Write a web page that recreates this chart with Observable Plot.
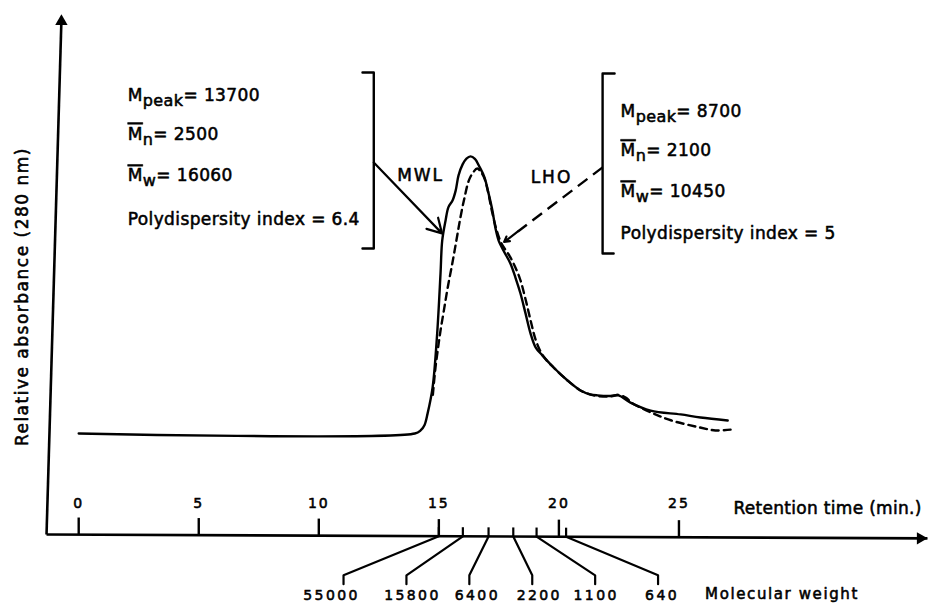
<!DOCTYPE html>
<html>
<head>
<meta charset="utf-8">
<script src="https://cdn.jsdelivr.net/npm/d3@7"></script>
<script src="https://cdn.jsdelivr.net/npm/@observablehq/plot@0.6"></script>
<style>
  html, body { margin: 0; padding: 0; background: #fff; }
  #chart svg { display: block; }
</style>
</head>
<body>
<div id="chart"></div>
<script>
// ---------------- DATA ----------------
// MWL chromatogram (solid): retention time (min) and relative absorbance (peak = 100)
const solidTime = [0, 14.0, 14.24, 14.4, 14.53, 14.74, 14.93, 15.07, 15.14, 15.28, 15.4, 15.57, 15.7, 15.82, 15.99, 16.15, 16.32, 16.5, 16.7, 16.9, 17.07, 17.23, 17.36, 17.49, 17.69, 17.98, 18.19, 18.4, 18.61, 18.82, 19.03, 19.31, 19.78, 20.36, 20.9, 21.3, 21.61, 22.15, 22.48, 22.98, 23.82, 25.07, 25.9, 27.03];
const solidAbs  = [0, 0, 1.1, 3, 7.2, 16.7, 36.2, 58, 69.9, 77.2, 82, 84.4, 88, 93.5, 97.5, 99.6, 100.4, 99.5, 96.5, 92.8, 87, 80.8, 74.3, 69.9, 66.3, 61.6, 56.5, 50.7, 43.5, 36.2, 31.2, 28.3, 23.9, 19.2, 15.6, 14.2, 13.8, 13.6, 13.8, 11.2, 8.3, 6.9, 5.8, 4.7];
// LHO chromatogram (dashed)
const dashedTime = [14.75, 14.86, 14.97, 15.07, 15.21, 15.37, 15.56, 15.73, 15.9, 16.07, 16.25, 16.43, 16.6, 16.76, 16.9, 17.05, 17.2, 17.38, 17.6, 17.98, 18.36, 18.6, 18.82, 19.05, 19.35, 19.78, 20.36, 20.9, 21.44, 22.15, 22.48, 22.78, 23.07, 23.94, 24.69, 25.86, 26.52, 27.15];
const dashedAbs  = [14, 23.9, 31.2, 37.3, 44.6, 52.9, 61.6, 69.9, 78.3, 85.5, 91.7, 94.6, 96, 94.6, 92.4, 87.5, 81, 74.5, 69, 63.8, 56.5, 49, 41, 33.5, 28, 23.9, 19.2, 15.6, 13.8, 13.4, 14.0, 13.0, 10.9, 7.2, 4.7, 2.2, 1.1, 1.4];
// Retention-time axis ticks
const retentionTicks = [0, 5, 10, 15, 20, 25];
// Molecular-weight calibration marks on the time axis
const mwLabels = ["55000", "15800", "6400", "2200", "1100", "640"];
const mwTime   = [15.0, 16.0, 17.07, 18.1, 19.07, 20.3];
// Annotation texts ({sub:..} subscript, {bar:..} overlined)
const mwlLines = ["M{sub:peak}= 13700", "{bar:M}{sub:n}= 2500", "{bar:M}{sub:w}= 16060", "Polydispersity index = 6.4"];
const lhoLines = ["M{sub:peak}= 8700", "{bar:M}{sub:n}= 2100", "{bar:M}{sub:w}= 10450", "Polydispersity index = 5"];
const xTitle = "Retention time (min.)";
const yTitle = "Relative absorbance (280 nm)";
const mwTitle = "Molecular weight";

// ---------------- LAYOUT ----------------
const PX = 24.01;                                            // px per minute
const AX = {t0: -1.34, a0: -36.6, t1: 35.35, a1: -38.0};   // time axis line
const YT = {t: -0.72, a: 151.8};                             // y axis arrow tip
const axisA = t => AX.a0 + (t - AX.t0) * (AX.a1 - AX.a0) / (AX.t1 - AX.t0);
const bendT = i => 11.03 + i * 2.62;
const labelShift = [-12, 6, 8, 7, 1, 4];                     // px shift of MW labels from leader ends
const font = '"DejaVu Sans", "Liberation Sans", sans-serif';

const solid = solidTime.map((t, i) => ({t, a: solidAbs[i]}));
const dashed = dashedTime.map((t, i) => ({t, a: dashedAbs[i]}));
const leaders = mwLabels.flatMap((k, i) => [
  {k, t: mwTime[i], a: axisA(mwTime[i])},
  {k, t: bendT(i), a: -51.4},
  {k, t: bendT(i), a: -54.6}
]);
const brackets = [
  {k: "L", t: 11.82, a: 130.8}, {k: "L", t: 12.29, a: 130.8}, {k: "L", t: 12.29, a: 67.0}, {k: "L", t: 11.82, a: 67.0},
  {k: "R", t: 22.32, a: 130.4}, {k: "R", t: 21.82, a: 130.4}, {k: "R", t: 21.82, a: 65.2}, {k: "R", t: 22.28, a: 65.2}
];
const mwlArrow = {x1: 12.29, y1: 98.2, x2: 15.13, y2: 72.5};
const lho = {x1: 21.82, y1: 96.4, x2: 17.72, y2: 69.4};
const f = 0.86;
const lhoMid = {x: lho.x1 + (lho.x2 - lho.x1) * f, y: lho.y1 + (lho.y2 - lho.y1) * f};
const mwlBase = [120.6, 106.5, 91.3, 75.7];
const lhoBase = [114.5, 100.4, 85.5, 70.3];

const txt = {fill: "black", stroke: "black", strokeWidth: 0.55, fontFamily: font};

const plot = Plot.plot({
  width: 928,
  height: 606,
  marginLeft: 78.2,
  marginRight: 249.55,
  marginTop: 14,
  marginBottom: 72,
  x: {domain: [0, 25], axis: null},
  y: {domain: [-36.6, 151.8], axis: null},
  style: {fontFamily: font, background: "white", color: "black", overflow: "visible"},
  marks: [
    // axes
    Plot.link([0], {x1: AX.t0, y1: AX.a0, x2: AX.t1, y2: AX.a1, stroke: "black", strokeWidth: 2.6}),
    Plot.link([0], {x1: AX.t0, y1: AX.a0, x2: YT.t, y2: YT.a - 2, stroke: "black", strokeWidth: 2.6}),
    Plot.dot([0], {x: YT.t, y: YT.a, symbol: "triangle", r: 4.6, fill: "black", stroke: "none", dy: 7}),
    Plot.dot([0], {x: AX.t1, y: AX.a1, symbol: "triangle", r: 4.6, fill: "black", stroke: "none", rotate: 90, dx: -7}),
    // retention ticks and labels
    Plot.link(retentionTicks, {x1: d => d, x2: d => d, y1: d => axisA(d), y2: d => axisA(d) + 6.2, stroke: "black", strokeWidth: 2.4}),
    Plot.text(retentionTicks, {...txt, x: d => d, y: -25.4, text: d => String(d), fontSize: 14, ariaDescription: "ticks"}),
    Plot.text([xTitle], {...txt, x: 27.27, y: -27.2, text: d => d, textAnchor: "start", fontSize: 17, ariaDescription: "xtitle"}),
    // molecular weight marks
    Plot.link(mwTime, {x1: d => d, x2: d => d, y1: d => axisA(d), y2: d => axisA(d) + 3.3, stroke: "black", strokeWidth: 2.2}),
    Plot.line(leaders, {x: "t", y: "a", z: "k", stroke: "black", strokeWidth: 2.2}),
    Plot.text(mwLabels, {...txt, x: (d, i) => bendT(i) + labelShift[i] / PX, y: -58.6, text: d => d, fontSize: 14, ariaDescription: "mw"}),
    Plot.text([mwTitle], {...txt, x: 26.09, y: -58.2, text: d => d, textAnchor: "start", fontSize: 15, ariaDescription: "mwtitle"}),
    // y title
    Plot.text([yTitle], {...txt, x: -2.34, y: 49.6, text: d => d, rotate: -90, fontSize: 17, ariaDescription: "ytitle"}),
    // chromatograms
    Plot.line(solid, {x: "t", y: "a", stroke: "black", strokeWidth: 2.4, curve: "catmull-rom"}),
    Plot.line(dashed, {x: "t", y: "a", stroke: "black", strokeWidth: 2.4, strokeDasharray: "7,5", curve: "catmull-rom"}),
    // brackets
    Plot.line(brackets, {x: "t", y: "a", z: "k", stroke: "black", strokeWidth: 2.4}),
    // pointers
    Plot.arrow([mwlArrow], {x1: "x1", y1: "y1", x2: "x2", y2: "y2", stroke: "black", strokeWidth: 2.2, headLength: 11}),
    Plot.link([lho], {x1: "x1", y1: "y1", x2: () => lhoMid.x, y2: () => lhoMid.y, stroke: "black", strokeWidth: 2.4, strokeDasharray: "12,7"}),
    Plot.arrow([lho], {x1: () => lhoMid.x, y1: () => lhoMid.y, x2: "x2", y2: "y2", stroke: "black", strokeWidth: 2.2, headLength: 9}),
    Plot.text(["MWL"], {...txt, x: 14.24, y: 93.5, text: d => d, fontSize: 17, ariaDescription: "tag"}),
    Plot.text(["LHO"], {...txt, x: 19.69, y: 92.8, text: d => d, fontSize: 17, ariaDescription: "tag"}),
    // annotation blocks
    Plot.text(mwlLines, {...txt, x: 2.04, y: (d, i) => mwlBase[i], text: d => d, textAnchor: "start", lineAnchor: "bottom", fontSize: 17, ariaDescription: "annot"}),
    Plot.text(lhoLines, {...txt, x: 22.57, y: (d, i) => lhoBase[i], text: d => d, textAnchor: "start", lineAnchor: "bottom", fontSize: 17, ariaDescription: "annot"})
  ]
});

// rich text: subscripts and overlines
const SUB_SHIFT = 5, SUB_SIZE = 16;
d3.select(plot).selectAll("text").each(function () {
  const s = this.textContent;
  if (!s.includes("{")) return;
  const el = d3.select(this);
  el.text(null);
  const re = /\{(bar|sub):([^}]*)\}|([^{]+)/g;
  let m, lowered = false;
  while ((m = re.exec(s))) {
    const ts = el.append("tspan");
    if (m[1] === "sub") {
      ts.text(m[2]).attr("font-size", SUB_SIZE).attr("dy", SUB_SHIFT);
      lowered = true;
    } else {
      ts.text(m[1] === "bar" ? m[2] : m[3]);
      if (m[1] === "bar") ts.style("text-decoration", "overline");
      if (lowered) { ts.attr("dy", -SUB_SHIFT); lowered = false; }
    }
  }
});
const spacing = {ticks: "2px", xtitle: "0.3px", mw: "2.4px", mwtitle: "1.6px", ytitle: "1.5px", tag: "2px", annot: "0.4px"};
for (const [k, v] of Object.entries(spacing)) {
  d3.select(plot).selectAll(`g[aria-description="${k}"] text`).style("letter-spacing", v);
}

document.getElementById("chart").appendChild(plot);
</script>
</body>
</html>
